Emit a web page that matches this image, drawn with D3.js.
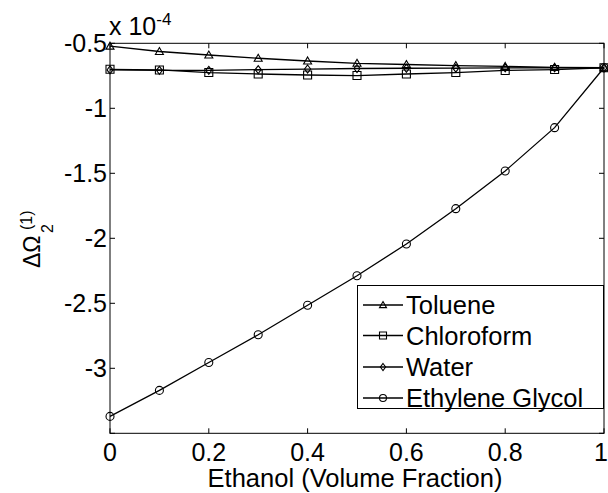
<!DOCTYPE html>
<html><head><meta charset="utf-8">
<script src="https://cdn.jsdelivr.net/npm/d3@7/dist/d3.min.js"></script>
<style>body{margin:0;background:#fff}svg{display:block}</style>
</head><body><svg id="c" width="608" height="493"></svg>
<script>
const xValues = [0, 0.1, 0.2, 0.3, 0.4, 0.5, 0.6, 0.7, 0.8, 0.9, 1.0];
const seriesNames = ["Toluene", "Chloroform", "Water", "Ethylene Glycol"];
const toluene = [-0.522, -0.563, -0.590, -0.615, -0.636, -0.654, -0.663, -0.671, -0.678, -0.685, -0.688];
const chloroform = [-0.700, -0.705, -0.725, -0.736, -0.744, -0.748, -0.736, -0.725, -0.709, -0.702, -0.688];
const water = [-0.705, -0.708, -0.708, -0.702, -0.698, -0.694, -0.692, -0.691, -0.689, -0.688, -0.688];
const ethyleneGlycol = [-3.37, -3.17, -2.955, -2.742, -2.515, -2.288, -2.044, -1.772, -1.482, -1.149, -0.688];
const xTicks = [0, 0.2, 0.4, 0.6, 0.8, 1];
const xTickLabels = ["0", "0.2", "0.4", "0.6", "0.8", "1"];
const yTicks = [-3.5, -3, -2.5, -2, -1.5, -1, -0.5];
const yTickLabels = ["", "-3", "-2.5", "-2", "-1.5", "-1", "-0.5"];
const markers = ["triangle", "square", "diamond", "circle"];

const FONT = "'Liberation Sans', Arial, Helvetica, sans-serif";
const svg = d3.select("#c");
const L = 110, R = 604, T = 43.3, B = 433.3;
const x = d3.scaleLinear().domain([0, 1]).range([L, R]);
const y = d3.scaleLinear().domain([-3.5, -0.5]).range([B, T]);

const allSeries = [toluene, chloroform, water, ethyleneGlycol];

function markerPath(type, s) {
  const h = s / 2;
  if (type === "triangle") return `M0,${-h} L${h},${h * 0.75} L${-h},${h * 0.75} Z`;
  if (type === "square") return `M${-h},${-h} H${h} V${h} H${-h} Z`;
  if (type === "diamond") return `M0,${-h} L${h * 0.75},0 L0,${h} L${-h * 0.75},0 Z`;
  return d3.arc()({innerRadius: 0, outerRadius: h, startAngle: 0, endAngle: 2 * Math.PI});
}

// axes box
svg.append("rect").attr("x", L).attr("y", T).attr("width", R - L).attr("height", B - T)
  .attr("fill", "none").attr("stroke", "#000").attr("stroke-width", 1);

const tl = 5;
const gx = svg.append("g");
xTicks.forEach((t, i) => {
  const px = x(t);
  gx.append("line").attr("x1", px).attr("x2", px).attr("y1", B).attr("y2", B - tl).attr("stroke", "#000");
  gx.append("line").attr("x1", px).attr("x2", px).attr("y1", T).attr("y2", T + tl).attr("stroke", "#000");
  const last = i === xTicks.length - 1;
  gx.append("text").attr("x", last ? 608 : px).attr("y", B + 28).attr("text-anchor", last ? "end" : "middle")
    .attr("font-family", FONT).attr("font-size", 25).text(xTickLabels[i]);
});
const gy = svg.append("g");
yTicks.forEach((t, i) => {
  const py = y(t);
  gy.append("line").attr("x1", L).attr("x2", L + tl).attr("y1", py).attr("y2", py).attr("stroke", "#000");
  gy.append("line").attr("x1", R).attr("x2", R - tl).attr("y1", py).attr("y2", py).attr("stroke", "#000");
  gy.append("text").attr("x", 107).attr("y", py + 9).attr("text-anchor", "end")
    .attr("font-family", FONT).attr("font-size", 25).text(yTickLabels[i]);
});

// exponent
const ex = svg.append("text").attr("x", 109).attr("y", 35).attr("font-family", FONT).attr("font-size", 25);
ex.append("tspan").text("x 10");
ex.append("tspan").attr("font-size", 17).attr("dy", -10).text("-4");

// x label
svg.append("text").attr("x", (L + R) / 2 - 2).attr("y", 487).attr("text-anchor", "middle")
  .attr("font-family", FONT).attr("font-size", 25.5).text("Ethanol (Volume Fraction)");

// y label
const yl = svg.append("g").attr("transform", "translate(40,268) rotate(-90)");
yl.append("text").attr("x", 0).attr("y", 0).attr("font-family", FONT).attr("font-size", 23).text("ΔΩ");
yl.append("text").attr("x", 35).attr("y", 13).attr("font-family", FONT).attr("font-size", 16).text("2");
yl.append("text").attr("x", 38).attr("y", -8).attr("font-family", FONT).attr("font-size", 16).text("(1)");

// series
const line = d3.line().x((d, i) => x(xValues[i])).y(d => y(d));
allSeries.forEach((s, k) => {
  svg.append("path").attr("d", line(s)).attr("fill", "none").attr("stroke", "#000").attr("stroke-width", 1.3);
  svg.append("g").selectAll("path").data(s).join("path")
    .attr("transform", (d, i) => `translate(${x(xValues[i])},${y(d)})`)
    .attr("d", markerPath(markers[k], 8))
    .attr("fill", "none").attr("stroke", "#000").attr("stroke-width", 1.1);
});

// legend
const lg = svg.append("g");
lg.append("rect").attr("x", 357.5).attr("y", 285.5).attr("width", 246).attr("height", 123)
  .attr("fill", "#fff").attr("stroke", "#000").attr("stroke-width", 1);
const rows = [305, 335.5, 367, 398];
seriesNames.forEach((n, k) => {
  const cy = rows[k];
  lg.append("line").attr("x1", 363).attr("x2", 403).attr("y1", cy).attr("y2", cy).attr("stroke", "#000").attr("stroke-width", 1.3);
  lg.append("path").attr("transform", `translate(383,${cy})`).attr("d", markerPath(markers[k], 7))
    .attr("fill", "none").attr("stroke", "#000").attr("stroke-width", 1.1);
  lg.append("text").attr("x", 406).attr("y", cy + 9).attr("font-family", FONT).attr("font-size", 25.5).text(n);
});
</script></body></html>
